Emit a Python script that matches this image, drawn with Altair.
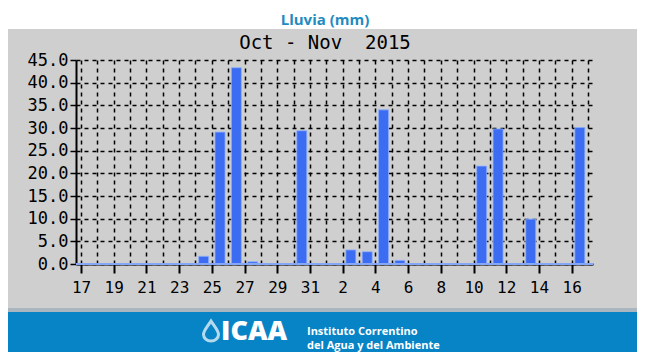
import json
import altair as alt
import pandas as pd

# ---- data ----
dates = [
    "2015-10-17", "2015-10-18", "2015-10-19", "2015-10-20", "2015-10-21",
    "2015-10-22", "2015-10-23", "2015-10-24", "2015-10-25", "2015-10-26",
    "2015-10-27", "2015-10-28", "2015-10-29", "2015-10-30", "2015-10-31",
    "2015-11-01", "2015-11-02", "2015-11-03", "2015-11-04", "2015-11-05",
    "2015-11-06", "2015-11-07", "2015-11-08", "2015-11-09", "2015-11-10",
    "2015-11-11", "2015-11-12", "2015-11-13", "2015-11-14", "2015-11-15",
    "2015-11-16",
]
rain_mm = [
    0.0, 0.0, 0.0, 0.0, 0.0,
    0.0, 0.0, 1.7, 29.1, 43.3,
    0.5, 0.0, 0.0, 29.4, 0.0,
    0.0, 3.1, 2.7, 34.0, 0.8,
    0.0, 0.0, 0.0, 0.0, 21.6,
    29.8, 0.0, 9.9, 0.0, 0.0,
    30.1,
]
y_ticks = [0, 5, 10, 15, 20, 25, 30, 35, 40, 45]

title_text = "Lluvia (mm)"
subtitle_text = "Oct - Nov \u00a02015"
logo_text = "ICAA"
banner_line1 = "Instituto Correntino"
banner_line2 = "del Agua y del Ambiente"

# ---- table ----
start = pd.Timestamp(dates[0])
df = pd.DataFrame({"date": dates, "rain": rain_mm})
df["day"] = (pd.to_datetime(df["date"]) - start).dt.days
df["mid"] = df["day"] + 0.5
n_days = len(dates)
day_labels = [str(pd.Timestamp(d).day) for d in dates]

# ---- styling / layout ----
GRAY = "#cfcfcf"
BAR = "#3b6cf2"
MONO = "DejaVu Sans Mono"
W, H = 517, 204
PAD_L, PAD_T, PAD_R, PAD_B = 68, 52, 44, 88
FULL_W = PAD_L + W + PAD_R   # 629
FULL_H = PAD_T + H + PAD_B   # 344

x_scale = alt.Scale(domain=[0, n_days], nice=False, zero=False)
y_scale = alt.Scale(domain=[0, 45], nice=False)

x_axis = alt.Axis(
    values=list(range(n_days + 1)),
    labelExpr=(
        f"datum.value % 2 == 0 && datum.value < {n_days} ? "
        f"{json.dumps(day_labels)}[datum.value] : ''"
    ),
    labelFont=MONO, labelFontSize=16, labelColor="black", labelPadding=6,
    labelAngle=0, labelFlush=False, labelOverlap=False,
    tickColor="black", tickSize=9, tickWidth=2,
    tickOpacity={"condition": {"test": "datum.value % 2 == 0", "value": 1}, "value": 0},
    domainColor="black", domainWidth=2,
    grid=True, gridColor="black", gridDash=[4, 4], gridWidth=1.5, gridOpacity=1,
    title=None,
)
y_axis = alt.Axis(
    values=y_ticks, format=".1f",
    labelFont=MONO, labelFontSize=17, labelColor="black", labelPadding=2,
    labelFlush=False, labelOverlap=False, labelBound=False,
    tickColor="black", tickSize=6, tickWidth=1.5,
    domainColor="black", domainWidth=2,
    grid=True, gridColor="black", gridDash=[4, 4], gridWidth=1.5, gridOpacity=1,
    title=None,
)

one = alt.Data(values=[{}])

# decorations (white title strip, banner)
white_strip = alt.Chart(one).mark_rect(color="white").encode(
    x=alt.value(-PAD_L), x2=alt.value(FULL_W - PAD_L),
    y=alt.value(-PAD_T), y2=alt.value(-31),
)
shade_strip = alt.Chart(one).mark_rect(color="#a9b6bf").encode(
    x=alt.value(-PAD_L), x2=alt.value(FULL_W - PAD_L),
    y=alt.value(248), y2=alt.value(252),
)
banner = alt.Chart(one).mark_rect(color="#0784c6").encode(
    x=alt.value(-PAD_L), x2=alt.value(FULL_W - PAD_L),
    y=alt.value(252), y2=alt.value(FULL_H - PAD_T),
)

title = alt.Chart(one).mark_text(
    text=title_text, font="Open Sans", fontWeight="bold", fontSize=15,
    color="#1f8bbf", align="center", baseline="middle",
).encode(x=alt.value(249), y=alt.value(-40))

subtitle = alt.Chart(one).mark_text(
    text=subtitle_text, font=MONO, fontSize=19, color="black",
    align="center", baseline="middle",
).encode(x=alt.value(249), y=alt.value(-17))

drop_path = ("M0,-1 C0.35,-0.45 0.75,-0.05 0.75,0.35 "
             "A0.75,0.65 0 1 1 -0.75,0.35 C-0.75,-0.05 -0.35,-0.45 0,-1 Z")
drop = alt.Chart(one).mark_point(
    shape=drop_path, size=400, filled=False, stroke="white", strokeWidth=3,
).encode(x=alt.value(135), y=alt.value(271))

logo = alt.Chart(one).mark_text(
    text=logo_text, font="Open Sans", fontWeight=800, fontSize=27,
    color="white", align="left", baseline="middle",
).encode(x=alt.value(145), y=alt.value(272))

line1 = alt.Chart(one).mark_text(
    text=banner_line1, font="Open Sans", fontWeight="bold", fontSize=11,
    color="white", align="left", baseline="alphabetic",
).encode(x=alt.value(231), y=alt.value(275))
line2 = alt.Chart(one).mark_text(
    text=banner_line2, font="Open Sans", fontWeight="bold", fontSize=11,
    color="white", align="left", baseline="alphabetic",
).encode(x=alt.value(231), y=alt.value(289))

bars = alt.Chart(df).mark_bar(
    size=10, color=BAR, stroke="#8fb0ff", strokeWidth=0.8,
).encode(
    x=alt.X("mid:Q", scale=x_scale, axis=x_axis),
    y=alt.Y("rain:Q", scale=y_scale, axis=y_axis),
)

zero_line = alt.Chart(one).mark_rule(color="#86a6f6", strokeWidth=2).encode(
    y=alt.Y(datum=0, scale=y_scale, axis=y_axis),
)

chart = alt.layer(
    white_strip, shade_strip, banner, title, subtitle, drop, logo, line1, line2,
    bars, zero_line,
).properties(
    width=W, height=H,
    autosize=alt.AutoSizeParams(type="none"),
    padding={"left": PAD_L, "top": PAD_T, "right": PAD_R, "bottom": PAD_B},
    background=GRAY,
).configure_view(strokeWidth=0).configure_axis(labelOverlap=False)

chart.save("out.html", embed_options={"renderer": "svg", "actions": False})
